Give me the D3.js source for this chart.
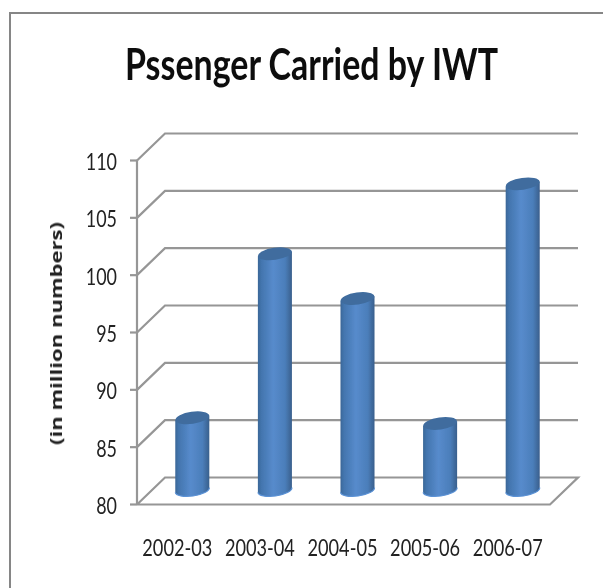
<!DOCTYPE html>
<html><head><meta charset="utf-8">
<script src="https://cdn.jsdelivr.net/npm/d3@7"></script>
<style>html,body{margin:0;padding:0;background:#fff}svg{display:block}</style>
</head><body><svg id="c" width="603" height="588"></svg>
<script>
const categories = ["2002-03","2003-04","2004-05","2005-06","2006-07"];
const values = [86.3,100.6,96.7,85.8,106.7];
const yTicks = [80,85,90,95,100,105,110];
const titleText = "Pssenger Carried by IWT";
const yTitle = "(in million numbers)";

const svg = d3.select("#c");
const defs = svg.append("defs");
const grad = defs.append("linearGradient").attr("id","cyl");
[[0,"#3a6797"],[0.1,"#4375ae"],[0.45,"#578bcc"],[0.8,"#4b7eba"],[1,"#395f8c"]].forEach(([o,c])=>grad.append("stop").attr("offset",o).attr("stop-color",c));
defs.append("filter").attr("id","soft").append("feGaussianBlur").attr("stdDeviation",0.5);
defs.append("filter").attr("id","softText").append("feGaussianBlur").attr("stdDeviation",0.35);

svg.append("rect").attr("x",10).attr("y",13).attr("width",600).attr("height",600).attr("fill","#fff").attr("stroke","#868686").attr("stroke-width",2);

const y = d3.scaleLinear().domain([80,110]).range([504.5,160.5]);
const frontX = d3.scaleBand().domain(categories).range([137,550]);
const x = d3.scaleBand().domain(categories).range([151,564]).paddingInner(0.588).paddingOuter(0.294);
const dx = 28, dy = -27;

const grid = svg.append("g").attr("filter","url(#softText)");
yTicks.forEach(t=>{
  const p = d3.path();
  p.moveTo(137,y(t)); p.lineTo(137+dx,y(t)+dy); p.lineTo(550+dx,y(t)+dy);
  if(t===80){p.lineTo(550,y(t));p.lineTo(137,y(t));}
  grid.append("path").attr("d",p.toString()).attr("fill","none").attr("stroke","#969696").attr("stroke-width",2.2);
  grid.append("line").attr("x1",130).attr("x2",137).attr("y1",y(t)).attr("y2",y(t)).attr("stroke","#969696").attr("stroke-width",2.2);
});
grid.append("line").attr("x1",137).attr("x2",137).attr("y1",y(80)).attr("y2",y(110)).attr("stroke","#969696").attr("stroke-width",2.2);

const font = "Lato,'Open Sans',sans-serif";
const txt = svg.append("g").attr("filter","url(#softText)");
txt.selectAll("text.yt").data(yTicks).join("text").attr("class","yt")
 .attr("x",117).attr("y",d=>y(d)+9.5).attr("text-anchor","end")
 .attr("font-family",font).attr("font-size",24).attr("fill","#222")
 .attr("textLength",d=>String(d).length*10.4).attr("lengthAdjust","spacingAndGlyphs").text(d=>d);

const rx = x.bandwidth()/2, ry = 6, baseShift = -14.5, tilt = rx*Math.sin(8*Math.PI/180);
const bars = svg.append("g").selectAll("g").data(values).join("g").attr("filter","url(#soft)");
bars.each(function(v,i){
  const g = d3.select(this);
  const l = x(categories[i]), r = l + x.bandwidth(), cx=(l+r)/2;
  const yb = y(80)+baseShift, yt = y(v)+baseShift;
  const arc = `M${l},${yb+tilt}A${rx},${ry} -8 0 0 ${r},${yb-tilt}`;
  g.append("path").attr("d",`M${l},${yt+tilt}L${l},${yb+tilt}A${rx},${ry} -8 0 0 ${r},${yb-tilt}L${r},${yt-tilt}Z`).attr("fill","url(#cyl)");
  g.append("path").attr("d",arc).attr("fill","none").attr("stroke","#5b92d6").attr("stroke-width",1.2);
  g.append("ellipse").attr("cx",cx).attr("cy",yt).attr("rx",rx).attr("ry",ry).attr("fill","#3f6c9e").attr("transform",`rotate(-8 ${cx} ${yt})`);
});

txt.selectAll("text.xt").data(categories).join("text").attr("class","xt")
 .attr("x",d=>frontX(d)+frontX.bandwidth()/2-1).attr("y",556).attr("text-anchor","middle")
 .attr("font-family",font).attr("font-size",23).attr("fill","#222")
 .attr("textLength",70).attr("lengthAdjust","spacingAndGlyphs").text(d=>d);

txt.append("text").attr("x",311.5).attr("y",80).attr("text-anchor","middle")
 .attr("font-family",font).attr("font-size",43).attr("font-weight","bold").attr("fill","#111")
 .attr("textLength",373).attr("lengthAdjust","spacingAndGlyphs").text(titleText);

txt.append("text").attr("transform","translate(62,333.5) rotate(-90)").attr("text-anchor","middle")
 .attr("font-family","'Open Sans',sans-serif").attr("font-size",16.5).attr("font-weight",700).attr("fill","#222")
 .attr("textLength",223).attr("lengthAdjust","spacingAndGlyphs").text(yTitle);
</script></body></html>
